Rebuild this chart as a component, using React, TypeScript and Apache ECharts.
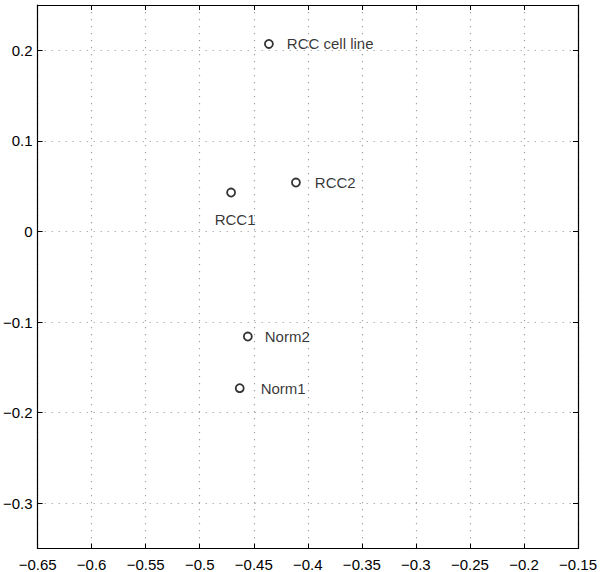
import React, { useEffect, useRef } from "react";
import * as echarts from "echarts";

const sampleNames = ["RCC cell line", "RCC2", "RCC1", "Norm2", "Norm1"];
const xValues = [-0.436, -0.411, -0.471, -0.4555, -0.463];
const yValues = [0.207, 0.054, 0.043, -0.116, -0.173];
const labelPositions = ["right", "right", "bottom", "right", "right"];
const labelDistances = [13, 14, 15, 12, 16];
const yTickValues = [-0.3, -0.2, -0.1, 0, 0.1, 0.2];

const fmt = (v: number) => {
  const s = String(Math.round(v * 100) / 100);
  return s.replace("-", "\u2212");
};

export default function App() {
  const ref = useRef<HTMLDivElement>(null);
  useEffect(() => {
    document.body.style.margin = "0";
    const chart = echarts.init(ref.current!, null, { renderer: "svg" });
    const font = "Liberation Sans, Arial, Helvetica, sans-serif";
    const gridLine = { show: true, lineStyle: { color: "#a0a0a0", type: [1.2, 5.8] as any, width: 1.2 } };
    const frameLine = { show: true, onZero: false, lineStyle: { color: "#000", width: 1.2 } };
    const tick = { show: true, inside: true, length: 5, lineStyle: { color: "#000" } };
    chart.setOption({
      animation: false,
      backgroundColor: "#ffffff",
      grid: { left: 36, right: 20, top: 5, bottom: 23.5, containLabel: false },
      xAxis: [
        {
          type: "value",
          min: -0.65,
          max: -0.15,
          interval: 0.05,
          position: "bottom",
          axisLine: frameLine,
          axisTick: tick,
          axisLabel: { color: "#000", fontFamily: font, fontSize: 15, margin: 8, formatter: fmt },
          splitLine: gridLine,
        },
        {
          type: "value",
          min: -0.65,
          max: -0.15,
          interval: 0.05,
          position: "top",
          axisLine: frameLine,
          axisTick: tick,
          axisLabel: { show: false },
          splitLine: { show: false },
        },
      ],
      yAxis: [
        {
          type: "value",
          min: -0.35,
          max: 0.25,
          position: "left",
          axisLine: frameLine,
          axisTick: { ...tick, customValues: yTickValues },
          axisLabel: {
            color: "#000",
            fontFamily: font,
            fontSize: 15,
            margin: 5,
            customValues: yTickValues,
            formatter: fmt,
          },
          splitLine: gridLine,
        },
        {
          type: "value",
          min: -0.35,
          max: 0.25,
          position: "right",
          axisLine: frameLine,
          axisTick: { ...tick, customValues: yTickValues },
          axisLabel: { show: false },
          splitLine: { show: false },
        },
      ],
      series: [
        {
          type: "scatter",
          xAxisIndex: 0,
          yAxisIndex: 0,
          symbol: "circle",
          symbolSize: 8,
          itemStyle: { color: "#fff", borderColor: "#000", borderWidth: 1.8 },
          label: { show: true, color: "#000", fontFamily: font, fontSize: 15 },
          data: sampleNames.map((n, i) => ({
            name: n,
            value: [xValues[i], yValues[i]],
            label: {
              show: true,
              formatter: n,
              position: labelPositions[i],
              distance: labelDistances[i],
              offset: labelPositions[i] === "bottom" ? [4, 0] : [0, 0],
            },
          })),
        },
      ],
    });
    return () => chart.dispose();
  }, []);
  return <div ref={ref} style={{ width: 600, height: 572 }} />;
}
